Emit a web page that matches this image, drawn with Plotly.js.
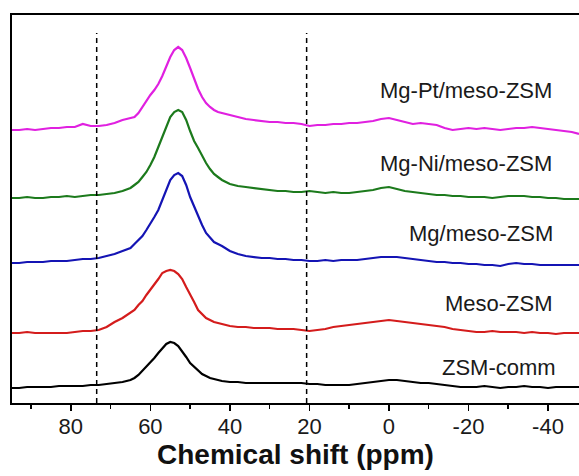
<!DOCTYPE html>
<html>
<head>
<meta charset="utf-8">
<script src="https://cdn.plot.ly/plotly-3.0.1.min.js"></script>
<style>html,body{margin:0;padding:0;background:#fff;}#chart{width:579px;height:476px;}</style>
</head>
<body>
<div id="chart"></div>
<script>
// Chemical shift grid (ppm)
var ppm = [95,93,91,89,87,85,83,81,79,77,75,73,71,69,67,
  65,64,63,62,61,60,59,58,57,56,55,54,53,52,51,50,49,48,47,46,45,44,43,42,
  40,38,36,34,32,30,28,26,24,22,20,18,16,14,12,10,8,6,4,2,0,-2,-4,-6,-8,-10,-12,-14,-16,-18,
  -20,-22,-24,-26,-28,-30,-32,-34,-36,-38,-40,-42,-44,-46,-47.8];

// Offset intensities (a.u.)
var mgPt = [273,273,274,273,274,275,275,276,276,279,277,277,278,280,283,
  285,286,290,296,303,308,313,319,327,337,346,353,356,353,345,335,324,314,306,300,296,293,291,290,
  288,286,284,283,282,281,281,280,280,279,277,278,278,279,279,280,280,281,282,284,
  285,283,281,279,280,279,278,275,273,274,275,274,275,274,273,274,275,275,276,275,
  274,273,272,271,269];
var mgNi = [205,205,206,205,205,206,206,207,206,207,208,208,209,210,212,
  215,218,221,226,231,238,246,256,266,278,286,291,293,291,283,272,262,255,247,240,234,229,226,223,
  219,217,216,215,214,213,212,212,211,211,212,211,210,211,210,210,211,212,213,215,
  216,214,212,211,210,209,208,208,207,207,206,206,206,205,206,207,207,207,206,206,
  205,205,204,204,204];
var mg = [140,140,141,141,141,142,142,142,143,144,144,145,147,149,152,
  155,159,163,167,173,179,186,193,203,214,223,228,230,227,218,206,196,187,178,170,165,161,159,157,
  152,149,147,146,145,145,144,144,143,143,142,142,143,142,143,143,143,144,145,146,
  146,146,145,144,143,142,141,141,140,140,139,139,138,138,137,139,140,139,139,138,
  138,138,138,138,138];
var meso = [70,70,71,70,70,70,70,70,71,72,72,73,76,81,85,
  90,93,98,102,108,113,118,124,130,132,133,132,129,124,116,109,101,93,89,85,83,81,80,79,
  77,76,76,75,75,75,74,74,74,73,72,73,74,76,77,78,79,80,81,82,
  83,82,81,80,79,78,77,76,74,73,72,71,71,72,71,71,71,70,71,70,
  70,69,70,70,70];
var comm = [15,15,16,16,16,16,17,17,17,17,18,18,19,20,21,
  23,25,28,32,36,40,45,50,55,59,61,60,57,52,46,40,36,32,29,27,25,24,23,22,
  21,21,20,20,20,20,20,20,20,20,19,19,18,18,18,18,19,20,21,22,
  23,23,22,21,20,20,19,18,17,16,16,16,17,16,15,16,16,17,16,16,
  15,16,16,16,16];

var seriesNames = ["Mg-Pt/meso-ZSM","Mg-Ni/meso-ZSM","Mg/meso-ZSM","Meso-ZSM","ZSM-comm"];
var seriesColors = ["#e020e0","#1c7a1c","#1414b4","#d41c1c","#000000"];
var seriesData = [mgPt, mgNi, mg, meso, comm];
var labelX = [-41.5, -41.5, -41.8, -41.8, -42.6];
var labelY = [313, 240, 170, 100, 36];

var tickVals = [80,60,40,20,0,-20,-40];
var tickText = ["80","60","40","20","0","-20","-40"];
var guideX = [73.5, 20.7];

var traces = seriesData.map(function(d, i){
  return {x: ppm, y: d, type: 'scatter', mode: 'lines', name: seriesNames[i],
    line: {color: seriesColors[i], width: 2.2}, hoverinfo: 'skip'};
});

var annotations = seriesNames.map(function(n, i){
  return {x: labelX[i], y: labelY[i], xref: 'x', yref: 'y', text: n, showarrow: false,
    xanchor: 'right', yanchor: 'middle', font: {family: 'Liberation Sans, Arial, sans-serif', size: 22, color: '#1a1a1a'}};
});

var shapes = guideX.map(function(v){
  return {type: 'line', xref: 'x', yref: 'y', x0: v, x1: v, y0: 0, y1: 370,
    line: {color: '#000', width: 1.5, dash: '5px,4px'}};
});

var layout = {
  width: 579, height: 476,
  margin: {l: 12, r: 0, t: 15, b: 73},
  paper_bgcolor: '#fff', plot_bgcolor: '#fff',
  showlegend: false,
  font: {family: 'Liberation Sans, Arial, sans-serif', color: '#1a1a1a'},
  xaxis: {
    range: [94.8, -47.8], showgrid: false, zeroline: false,
    showline: true, mirror: true, linecolor: '#000', linewidth: 2,
    tickmode: 'array', tickvals: tickVals, ticktext: tickText,
    ticks: 'outside', ticklen: 6, tickwidth: 1.5, tickcolor: '#000',
    ticklabelstandoff: -3,
    minor: {tickmode: 'linear', tick0: 0, dtick: 10, ticks: 'outside', ticklen: 4, tickwidth: 1.5, tickcolor: '#000', showgrid: false},
    tickfont: {size: 22, color: '#1a1a1a'},
    title: {text: 'Chemical shift (ppm)', font: {size: 28, color: '#111', weight: 'bold'}, standoff: 4}
  },
  yaxis: {
    range: [0, 388], showgrid: false, zeroline: false,
    showline: true, mirror: true, linecolor: '#000', linewidth: 2,
    ticks: '', showticklabels: false
  },
  annotations: annotations,
  shapes: shapes
};

Plotly.newPlot('chart', traces, layout, {staticPlot: true, displayModeBar: false});
</script>
</body>
</html>
